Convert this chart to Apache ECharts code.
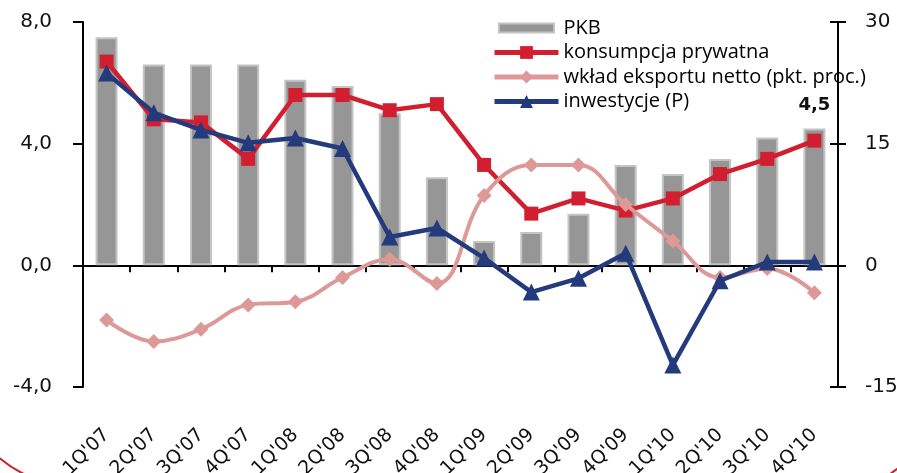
<!DOCTYPE html>
<html>
<head>
<meta charset="utf-8">
<script src="https://cdn.jsdelivr.net/npm/echarts@6/dist/echarts.min.js"></script>
<style>
html,body{margin:0;padding:0;background:#fff;}
#c{width:897px;height:473px;}
</style>
</head>
<body>
<div id="c"></div>
<script>
const categories = ["1Q'07","2Q'07","3Q'07","4Q'07","1Q'08","2Q'08","3Q'08","4Q'08","1Q'09","2Q'09","3Q'09","4Q'09","1Q'10","2Q'10","3Q'10","4Q'10"];
const pkb = [7.5, 6.6, 6.6, 6.6, 6.1, 5.9, 5.0, 2.9, 0.8, 1.1, 1.7, 3.3, 3.0, 3.5, 4.2, 4.5];
const konsumpcja = [6.7, 4.8, 4.7, 3.5, 5.6, 5.6, 5.1, 5.3, 3.3, 1.7, 2.2, 1.8, 2.2, 3.0, 3.5, 4.1];
const eksport = [-1.8, -2.5, -2.1, -1.3, -1.2, -0.4, 0.2, -0.6, 2.3, 3.3, 3.3, 2.0, 0.8, -0.4, -0.1, -0.9];
const inwestycje = [23.7, 18.8, 16.7, 15.1, 15.7, 14.4, 3.5, 4.6, 0.9, -3.3, -1.6, 1.5, -12.3, -1.9, 0.4, 0.4];
const leftTicks = [-4, 0, 4, 8];
const rightTicks = [-15, 0, 15, 30];
const seriesNames = ["PKB", "konsumpcja prywatna", "wkład eksportu netto (pkt. proc.)", "inwestycje (P)"];

const chart = echarts.init(document.getElementById('c'));
const axisFont = 'DejaVu Sans';
const lastIdx = pkb.length - 1;
const pkbData = pkb.map((v, i) => i === lastIdx ? {
  value: v,
  label: {show: true, position: 'top', distance: 14, fontFamily: axisFont, fontWeight: 'bold', fontSize: 18, color: '#111',
    formatter: p => String(p.value).replace('.', ',')}
} : v);

chart.setOption({
  animation: false,
  grid: {left: 83, right: 59, top: 22, bottom: 86, containLabel: false, outerBoundsMode: 'none'},
  legend: {
    orient: 'vertical', left: 492, top: 18, padding: 0,
    itemWidth: 64, itemHeight: 16, itemGap: 4.5,
    textStyle: {fontFamily: 'Open Sans', fontSize: 20, color: '#000', lineHeight: 20},
    data: [
      {name: seriesNames[0], icon: 'path://M0,0 L0,0 M0,18 L0,18 M0,4 L62,4 L62,14 L0,14 Z'},
      {name: seriesNames[1], lineStyle: {width: 5}},
      {name: seriesNames[2], lineStyle: {width: 5}},
      {name: seriesNames[3], lineStyle: {width: 5}}
    ]
  },
  xAxis: [{
    type: 'category', data: categories, boundaryGap: true,
    axisLine: {onZero: true, onZeroAxisIndex: 0, lineStyle: {color: '#000', width: 2}},
    axisTick: {show: true, inside: false, length: 7, lineStyle: {color: '#000', width: 2}},
    axisLabel: {show: false}, splitLine: {show: false}
  }, {
    type: 'category', data: categories, position: 'bottom', boundaryGap: true,
    axisLine: {show: false, onZero: false}, axisTick: {show: false},
    axisLabel: {show: true, rotate: 45, margin: 45, interval: 0, fontFamily: axisFont, fontSize: 19, color: '#111'},
    splitLine: {show: false}
  }],
  yAxis: [{
    type: 'value', position: 'left', min: leftTicks[0], max: leftTicks[leftTicks.length - 1], interval: 4,
    axisLine: {show: true, lineStyle: {color: '#000', width: 2}},
    axisTick: {show: true, length: 10, lineStyle: {color: '#000', width: 2}},
    axisLabel: {margin: 31, fontFamily: axisFont, fontSize: 20, color: '#111',
      formatter: v => leftTicks.includes(v) ? v.toFixed(1).replace('.', ',') : ''},
    splitLine: {show: false}
  }, {
    type: 'value', position: 'right', min: rightTicks[0], max: rightTicks[rightTicks.length - 1], interval: 15,
    axisLine: {show: true, lineStyle: {color: '#000', width: 2}},
    axisTick: {show: true, length: 8, lineStyle: {color: '#000', width: 2}},
    axisLabel: {margin: 27, fontFamily: axisFont, fontSize: 20, color: '#111',
      formatter: v => rightTicks.includes(v) ? String(v) : ''},
    splitLine: {show: false}
  }, {
    type: 'value', position: 'right', min: rightTicks[0], max: rightTicks[rightTicks.length - 1], interval: 15,
    axisLine: {show: false},
    axisTick: {show: true, inside: true, length: 8, lineStyle: {color: '#000', width: 2}},
    axisLabel: {show: false}, splitLine: {show: false}
  }],
  series: [{
    name: seriesNames[0], type: 'bar', xAxisIndex: 0, yAxisIndex: 0, data: pkbData, barWidth: 22,
    itemStyle: {color: '#969696', borderColor: '#c4c4c4', borderWidth: 2}, z: 1
  }, {
    name: seriesNames[1], type: 'line', xAxisIndex: 0, yAxisIndex: 0, data: konsumpcja,
    symbol: 'rect', symbolSize: 14, lineStyle: {color: '#d21f2f', width: 4.5},
    itemStyle: {color: '#d21f2f'}, z: 3
  }, {
    name: seriesNames[2], type: 'line', xAxisIndex: 0, yAxisIndex: 0, data: eksport, smooth: 0.4,
    symbol: 'diamond', symbolSize: 15, lineStyle: {color: '#dc9997', width: 4},
    itemStyle: {color: '#dc9997'}, z: 4
  }, {
    name: seriesNames[3], type: 'line', xAxisIndex: 0, yAxisIndex: 1, data: inwestycje,
    symbol: 'triangle', symbolSize: 17, lineStyle: {color: '#233a7d', width: 4.5},
    itemStyle: {color: '#233a7d'}, z: 5
  }],
  graphic: [{
    type: 'bezierCurve', shape: {x1: -4, y1: 455, cpx1: 6, cpy1: 464, cpx2: 15, cpy2: 470, x2: 28, y2: 476},
    style: {stroke: '#d21f2f', lineWidth: 2, fill: null}, silent: true
  }, {
    type: 'bezierCurve', shape: {x1: 888, y1: 476, cpx1: 891, cpy1: 473, cpx2: 894, cpy2: 471, x2: 900, y2: 467},
    style: {stroke: '#d21f2f', lineWidth: 2, fill: null}, silent: true
  }]
});
</script>
</body>
</html>
